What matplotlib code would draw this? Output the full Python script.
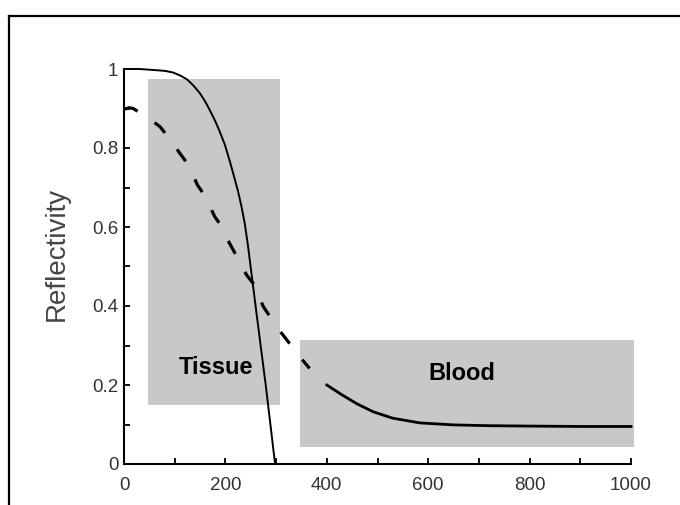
import matplotlib
matplotlib.use('Agg')
import matplotlib.pyplot as plt
from matplotlib.patches import Rectangle
from matplotlib.lines import Line2D
from matplotlib.ticker import MultipleLocator

plt.rcParams['font.family'] = ['Liberation Sans', 'DejaVu Sans']

# tissue curve (solid)
tissue_x = [0, 30, 64, 82, 97, 110, 124, 137, 150, 160, 170, 180, 189, 199, 209,
            217, 225, 232, 238, 244, 250, 256, 262, 268, 274, 280, 286, 292, 298]
tissue_y = [1.0, 1.0, 0.997, 0.995, 0.991, 0.984, 0.974, 0.958, 0.938, 0.918, 0.894,
            0.868, 0.841, 0.808, 0.765, 0.728, 0.690, 0.650, 0.610, 0.558, 0.497,
            0.436, 0.375, 0.315, 0.255, 0.195, 0.13, 0.065, 0.0]

# blood curve, dashed part
dash_x = [0, 10, 18, 32, 50, 71, 89, 110, 127, 145, 160, 179, 193, 208, 221,
          242, 255, 275, 288, 306, 320, 349, 366]
dash_y = [0.898, 0.902, 0.90, 0.889, 0.874, 0.854, 0.825, 0.787, 0.757, 0.706, 0.678,
          0.626, 0.601, 0.559, 0.529, 0.478, 0.457, 0.398, 0.373, 0.339, 0.316, 0.268, 0.242]

# blood curve, solid part
blood_x = [400, 430, 460, 492, 530, 584, 650, 720, 800, 900, 1000]
blood_y = [0.200, 0.175, 0.152, 0.132, 0.116, 0.104, 0.099, 0.097, 0.096, 0.095, 0.095]

# shaded regions: (x0, x1, y0, y1)
tissue_box = (47, 308, 0.149, 0.975)
blood_box = (347, 1005, 0.043, 0.314)

fig = plt.figure(figsize=(6.8, 5.05), dpi=100)
ax = fig.add_axes([124 / 680, 1 - 464 / 505, 507 / 680, 395 / 505])

box_col = '#c8c8c8'
for (x0, x1, y0, y1) in (tissue_box, blood_box):
    ax.add_patch(Rectangle((x0, y0), x1 - x0, y1 - y0, facecolor=box_col,
                           edgecolor='none', clip_on=False, zorder=1))

ax.plot(tissue_x, tissue_y, color='black', lw=1.4, zorder=3, clip_on=False)
ax.plot(dash_x, dash_y, color='black', lw=2.3, zorder=3, clip_on=False,
        linestyle=(0, (4.6, 6.4)), solid_capstyle='butt')
ax.plot(blood_x, blood_y, color='black', lw=2.0, zorder=3, clip_on=False)

ax.text(181, 0.245, 'Tissue', fontsize=17, fontweight='bold', ha='center', va='center', zorder=4)
ax.text(667, 0.23, 'Blood', fontsize=17, fontweight='bold', ha='center', va='center', zorder=4)

ax.set_xlim(0, 1000)
ax.set_ylim(0, 1)
ax.xaxis.set_major_locator(MultipleLocator(200))
ax.xaxis.set_minor_locator(MultipleLocator(100))
ax.yaxis.set_minor_locator(MultipleLocator(0.1))
ax.set_yticks([0, 0.2, 0.4, 0.6, 0.8, 1.0])
ax.set_yticklabels(['0', '0.2', '0.4', '0.6', '0.8', '1'])

for s in ('top', 'right'):
    ax.spines[s].set_visible(False)
for s in ('left', 'bottom'):
    ax.spines[s].set_linewidth(1.5)
ax.tick_params(which='both', direction='in', length=4, width=1.3,
               labelsize=13.5, labelcolor='#333333')
ax.tick_params(axis='x', pad=9)
ax.tick_params(axis='y', pad=4)

fig.text(57 / 680, 1 - 254 / 505, 'Reflectivity', fontsize=20, color='#444444',
         rotation=90, ha='center', va='center')

# picture frame (left and top edges visible)
fig.add_artist(Line2D([8.5 / 680, 8.5 / 680], [0, 1 - 15.5 / 505], color='black', lw=1.6,
                      transform=fig.transFigure))
fig.add_artist(Line2D([8.5 / 680, 1], [1 - 15.5 / 505, 1 - 15.5 / 505], color='black', lw=1.6,
                      transform=fig.transFigure))

fig.savefig('out.png', dpi=100)
